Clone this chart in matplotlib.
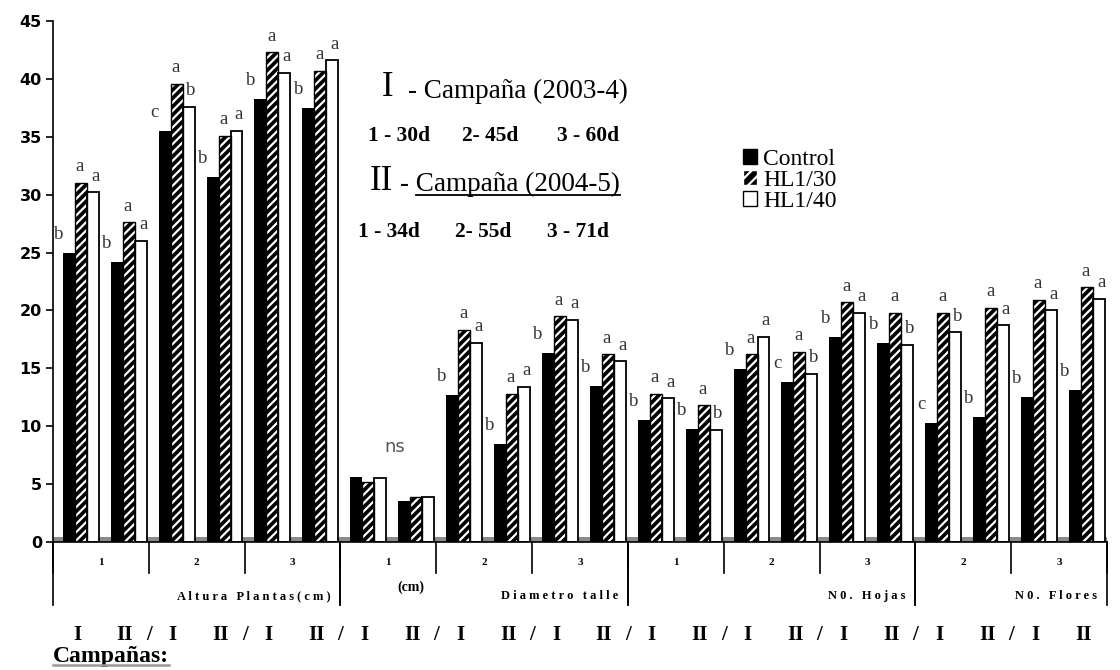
import numpy as np
import matplotlib.pyplot as plt
from matplotlib.patches import Patch
from matplotlib.lines import Line2D

# datos: 22 grupos (variable / dia / campaña)
campanas = ['I', 'II'] * 11
dias = ['1', '2', '3', '1', '2', '3', '1', '2', '3', '2', '3']
variables = ['Altura Plantas(cm)', 'Diametro talle', 'N0. Hojas', 'N0. Flores']
n_dias = [3, 3, 3, 2]
series = ['Control', 'HL1/30', 'HL1/40']
dias_c1 = ['1 - 30d', '2- 45d', '3 - 60d']
dias_c2 = ['1 - 34d', '2- 55d', '3 - 71d']

control = [25.0, 24.2, 35.5, 31.5, 38.3, 37.5,
           5.6, 3.5, 12.7, 8.5, 16.3, 13.5,
           10.5, 9.8, 14.9, 13.8, 17.7, 17.2,
           10.3, 10.8, 12.5, 13.1]
hl30 = [31.0, 27.6, 39.6, 35.1, 42.3, 40.7,
        5.2, 3.9, 18.3, 12.8, 19.5, 16.2,
        12.8, 11.8, 16.2, 16.4, 20.7, 19.8,
        19.8, 20.2, 20.9, 22.0]
hl40 = [30.2, 26.0, 37.6, 35.5, 40.5, 41.6,
        5.5, 3.9, 17.2, 13.4, 19.2, 15.6,
        12.4, 9.7, 17.7, 14.5, 19.8, 17.0,
        18.1, 18.7, 20.0, 21.0]
letras = ['baa', 'baa', 'cab', 'baa', 'baa', 'baa',
          '   ', '   ', 'baa', 'baa', 'baa', 'baa',
          'baa', 'bab', 'baa', 'cab', 'baa', 'bab',
          'cab', 'baa', 'baa', 'baa']

serif = ['Liberation Serif', 'DejaVu Serif']
W, H = 1120, 670


def fx(px):
    return px / W


def fy(py):
    return 1 - py / H


def espaciar(s):
    # texto con letras separadas como en el original
    return '   '.join(' '.join(p) for p in s.split(' '))


fig = plt.figure(figsize=(11.2, 6.7), dpi=100)
ax = fig.add_axes([fx(53), fy(542), (1107 - 53) / W, (542 - 21) / H])

x = np.arange(len(control))
w = 0.25
plt.rcParams['hatch.linewidth'] = 1.6
ax.axhspan(0, 0.4, color='#8a8a8a', zorder=0.5, lw=0)
ax.bar(x - 0.17, control, w, color='black', zorder=2)
ax.bar(x + 0.08, hl30, w, color='black', edgecolor='white', hatch='////', lw=0, zorder=2)
ax.bar(x + 0.08, hl30, w, fill=False, edgecolor='black', lw=1.0, zorder=3)
ax.bar(x + 0.33, hl40, w, color='white', edgecolor='black', lw=1.3, zorder=2)

# letras de significacion
for i in range(len(control)):
    l = letras[i]
    ax.text(i - 0.38, control[i] + 1.6, l[0], ha='center', va='center',
            fontsize=13.5, family=serif, color='#333333')
    ax.text(i + 0.06, hl30[i] + 1.4, l[1], ha='center', va='center',
            fontsize=13.5, family=serif, color='#333333')
    ax.text(i + 0.38, hl40[i] + 1.4, l[2], ha='center', va='center',
            fontsize=13.5, family=serif, color='#333333')
ax.text(6.64, 8.2, 'ns', ha='center', va='center', fontsize=13, color='#555555')

ax.set_xlim(-0.5, 21.5)
ax.set_ylim(0, 45)
ax.set_yticks(np.arange(0, 46, 5))
for t in ax.get_yticklabels():
    t.set_fontweight('bold')
    t.set_fontsize(11.5)
    t.set_family('DejaVu Sans')
ax.set_xticks([])
ax.spines['top'].set_visible(False)
ax.spines['right'].set_visible(False)
ax.spines['left'].set_linewidth(1.2)
ax.spines['bottom'].set_linewidth(1.2)
ax.tick_params(axis='y', length=5, width=1.2, pad=3)

# ejes de categorias debajo
for k in range(12):
    ax.plot([-0.5 + 2 * k] * 2, [0, -2.68], color='black', lw=1.2, clip_on=False)
    if k < 11:
        ax.text(0.5 + 2 * k, -1.81, dias[k], ha='center', va='center',
                fontsize=8, fontweight='bold', family=serif)
ini = -0.5
for v, n in zip(variables, n_dias):
    fin = ini + 2 * n
    ax.plot([ini, ini], [0, -5.44], color='black', lw=1.2, clip_on=False)
    ax.plot([fin, fin], [0, -5.44], color='black', lw=1.2, clip_on=False)
    ax.text(fin - 0.2, -4.66, espaciar(v), ha='right', va='center', fontsize=9,
            fontweight='bold', family=serif)
    ini = fin
ax.text(6.97, -3.89, '(cm)', ha='center', va='center', fontsize=10,
        fontweight='bold', family=serif)

# fila de campañas
for i, c in enumerate(campanas):
    ax.text(i, -8.03, c, ha='center', va='center', fontsize=15,
            fontweight='bold', family=serif)
    if i % 2 == 1 and i < len(campanas) - 1:
        ax.text(i + 0.5, -8.03, '/', ha='center', va='center', fontsize=15,
                fontweight='bold', family=serif)
t_camp = ax.text(-0.5, -9.93, 'Campañas:', ha='left', va='center', fontsize=17,
                 fontweight='bold', family=serif)

# bloque de texto
fig.text(fx(388), fy(88), 'I', ha='center', va='center', fontsize=25, family=serif)
fig.text(fx(408), fy(91), '- Campaña (2003-4)', ha='left', va='center',
         fontsize=19.5, family=serif)
for s, px in zip(dias_c1, [368, 462, 557]):
    fig.text(fx(px), fy(136), s, ha='left', va='center',
             fontsize=15.5, fontweight='bold', family=serif)
fig.text(fx(381), fy(182), 'II', ha='center', va='center', fontsize=25, family=serif)
t_c2 = fig.text(fx(400), fy(184), '- Campaña (2004-5)', ha='left', va='center',
                fontsize=19.5, family=serif)
for s, px in zip(dias_c2, [358, 455, 547]):
    fig.text(fx(px), fy(232), s, ha='left', va='center',
             fontsize=15.5, fontweight='bold', family=serif)

handles = [Patch(facecolor='black', edgecolor='black'),
           Patch(facecolor='black', edgecolor='white', hatch='///'),
           Patch(facecolor='white', edgecolor='black')]
fig.legend(handles, series, loc='upper left', bbox_to_anchor=(fx(731), fy(137)),
           frameon=False, prop={'family': 'Liberation Serif', 'size': 17},
           handlelength=0.6, handleheight=0.6, handletextpad=0.25,
           labelspacing=0.0, borderpad=0)

# subrayados
fig.canvas.draw()
r = fig.canvas.get_renderer()
bb = t_c2.get_window_extent(r)
fig.add_artist(Line2D([(bb.x0 + 16) / W, bb.x1 / W], [(bb.y0 + 2) / H] * 2,
                      color='black', lw=1.3))
bb = t_camp.get_window_extent(r)
fig.add_artist(Line2D([bb.x0 / W, bb.x1 / W], [(bb.y0 + 2) / H] * 2,
                      color='#999999', lw=1.8))

fig.savefig('out.png', dpi=100)
